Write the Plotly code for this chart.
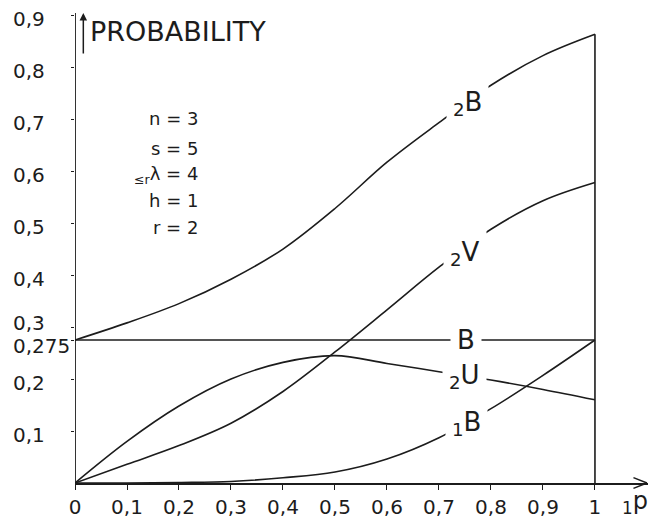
import plotly.graph_objects as go

# ---- data ----
p = [0, 0.1, 0.2, 0.3, 0.4, 0.5, 0.6, 0.7, 0.8, 0.9, 1.0]
B2 = [0.275, 0.308, 0.345, 0.392, 0.450, 0.528, 0.617, 0.693, 0.765, 0.822, 0.863]
V2 = [0.0, 0.036, 0.072, 0.115, 0.176, 0.252, 0.333, 0.415, 0.488, 0.543, 0.578]
U2 = [0.0, 0.080, 0.148, 0.200, 0.232, 0.245, 0.230, 0.214, 0.198, 0.180, 0.160]
B1 = [0.0, 0.0, 0.001, 0.003, 0.010, 0.021, 0.046, 0.087, 0.143, 0.207, 0.275]
B_level = 0.275

x_ticks = [0, 0.1, 0.2, 0.3, 0.4, 0.5, 0.6, 0.7, 0.8, 0.9, 1.0]
x_ticktext = ["0", "0,1", "0,2", "0,3", "0,4", "0,5", "0,6", "0,7", "0,8", "0,9", "1"]
y_ticks = [0.1, 0.2, 0.275, 0.3, 0.4, 0.5, 0.6, 0.7, 0.8, 0.9]
y_ticktext = ["0,1", "0,2", "0,275", "0,3", "0,4", "0,5", "0,6", "0,7", "0,8", "0,9"]

params = ["n = 3", "s = 5", "<sub>≤r</sub>λ = 4", "h = 1", "r = 2"]
param_y = [0.702, 0.644, 0.592, 0.544, 0.492]

curve_labels = ["<sub>2</sub>B", "<sub>2</sub>V", "B", "<sub>2</sub>U", "<sub>1</sub>B"]
label_x = [0.755, 0.75, 0.752, 0.75, 0.752]
label_y = [0.73, 0.442, 0.275, 0.205, 0.115]

INK = "#1c1c1c"
FONT = "DejaVu Sans"

fig = go.Figure()
line_style = dict(color=INK, width=1.6, shape="spline", smoothing=1.0)
for ys in (B2, V2, U2, B1):
    fig.add_trace(go.Scatter(x=p, y=ys, mode="lines", line=line_style,
                             hoverinfo="skip", showlegend=False))
fig.add_trace(go.Scatter(x=[0, 1], y=[B_level, B_level], mode="lines",
                         line=dict(color=INK, width=1.6), hoverinfo="skip",
                         showlegend=False))

# vertical line at p = 1 up to the end of 2B
fig.add_shape(type="line", x0=1, x1=1, y0=0, y1=B2[-1], xref="x", yref="y",
              line=dict(color=INK, width=1.6))
# y axis line
fig.add_shape(type="line", x0=0, x1=0, y0=0, y1=0.904, xref="x", yref="y",
              line=dict(color=INK, width=1.8))

annotations = []
# x-axis open arrow head: two short strokes ending at the axis tip
for dy in (-6, 6):
    annotations.append(dict(x=1.1, y=0, xref="x", yref="y", text="",
                            showarrow=True, arrowhead=0, ax=-15, ay=dy,
                            arrowwidth=1.5, arrowcolor=INK, standoff=0))
# curve labels that interrupt the lines
for t, xx, yy in zip(curve_labels, label_x, label_y):
    annotations.append(dict(x=xx, y=yy, xref="x", yref="y", text=t,
                            showarrow=False, bgcolor="white", borderpad=6,
                            font=dict(family=FONT, size=26, color=INK)))
# parameter block
for t, yy in zip(params, param_y):
    annotations.append(dict(x=0.24, y=yy, xref="x", yref="y", text=t,
                            xanchor="right", showarrow=False,
                            font=dict(family=FONT, size=18, color=INK)))
# y tick labels, left aligned like the hand lettering
y_shift = {0.3: 4, 0.275: -6}
for v, t in zip(y_ticks, y_ticktext):
    annotations.append(dict(x=-0.112, y=v, xref="paper", yref="y", text=t,
                            xanchor="left", yanchor="middle", showarrow=False,
                            yshift=y_shift.get(v, -4),
                            font=dict(family=FONT, size=20, color=INK)))
# axis title with arrow
annotations.append(dict(x=0.016, y=0.904, xref="x", yref="y", text="",
                        showarrow=True, ax=0, ay=42, arrowhead=2,
                        arrowsize=1, arrowwidth=1.5, arrowcolor=INK))
annotations.append(dict(x=0.025, y=0.868, xref="x", yref="y", text="PROBABILITY",
                        xanchor="left", yanchor="middle", showarrow=False,
                        font=dict(family=FONT, size=27, color=INK)))
annotations.append(dict(x=1.048, y=0, xref="x", yref="y", text="<sub>1</sub>p",
                        xanchor="left", yanchor="middle", yshift=-19,
                        showarrow=False,
                        font=dict(family=FONT, size=24, color=INK)))

fig.update_layout(
    width=650, height=522,
    margin=dict(l=75, r=2, t=13, b=39),
    paper_bgcolor="white", plot_bgcolor="white",
    showlegend=False,
    annotations=annotations,
    xaxis=dict(range=[0, 1.102], showgrid=False, zeroline=False,
               showline=True, linecolor=INK, linewidth=1.8,
               tickmode="array", tickvals=x_ticks, ticktext=x_ticktext,
               ticks="outside", ticklen=5, tickcolor=INK, tickwidth=1.2,
               ticklabelstandoff=0,
               tickfont=dict(family=FONT, size=20, color=INK)),
    yaxis=dict(range=[0, 0.904], showgrid=False, zeroline=False,
               showline=False, tickmode="array", tickvals=y_ticks,
               ticks="outside", ticklen=3, tickcolor=INK, tickwidth=1.2,
               showticklabels=False),
)

fig.write_html("out.html", config={"displayModeBar": False},
               post_script="document.body.style.margin='0';"
                           "document.body.style.overflow='hidden';")
